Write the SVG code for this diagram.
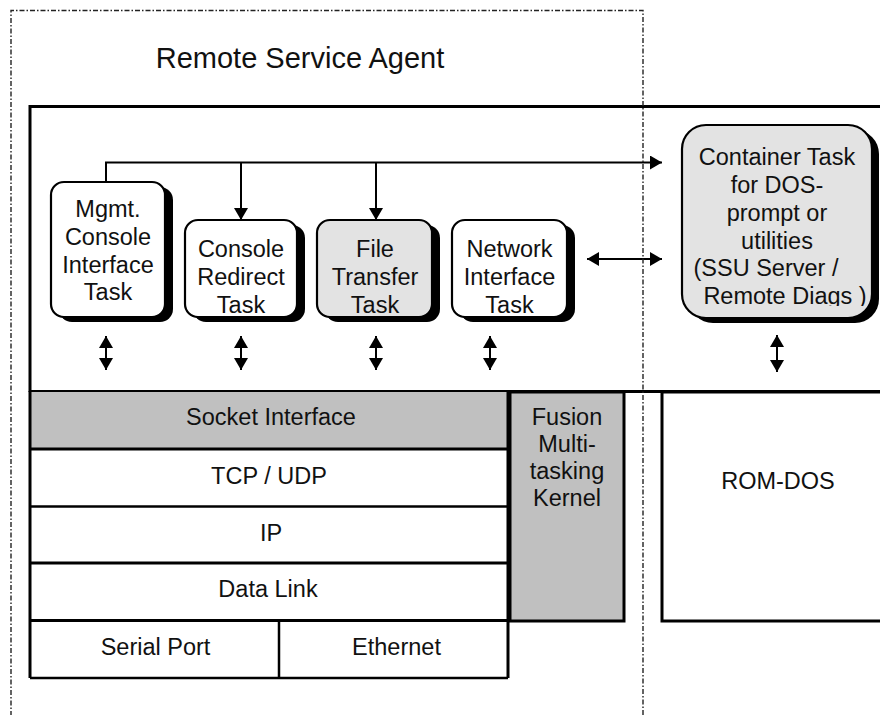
<svg xmlns="http://www.w3.org/2000/svg" width="880" height="715" viewBox="0 0 880 715">
<defs>
<style>
text{font-family:"Liberation Sans",Arial,sans-serif;font-size:23.5px;fill:#111;text-anchor:middle}
.title{font-size:29px}
.task{stroke:#000;stroke-width:2.2}
.shadow{fill:#000;stroke:none}
.thick{stroke:#000;stroke-width:3;fill:none}
.med{stroke:#000;stroke-width:2.5;fill:none}
.conn{stroke:#000;stroke-width:2;fill:none}
.dash{stroke:#222;stroke-width:1.4;fill:none;stroke-dasharray:5 2 1.5 2}
.gray{fill:#c0c0c0}
.light{fill:#e3e3e3}
.white{fill:#fff}
</style>
<marker id="ah" viewBox="0 0 12 14" refX="12" refY="7" markerWidth="12" markerHeight="14" markerUnits="userSpaceOnUse" orient="auto-start-reverse">
<path d="M0,0 L12,7 L0,14 Z" fill="#000"/>
</marker>
<clipPath id="cclip"><rect x="682" y="125" width="200" height="181"/></clipPath>
</defs>
<rect width="880" height="715" fill="#fff"/>
<text class="title" x="300" y="68">Remote Service Agent</text>
<g id="frame">
<path class="thick" d="M30,392 V106.5 H882"/>
<path class="thick" d="M30,391.5 H882"/>
</g>
<g id="mgmt">
<rect class="shadow" x="59" y="187" width="114" height="135" rx="13"/>
<rect class="task white" x="51" y="182" width="114" height="135" rx="13"/>
<text x="108" y="217">Mgmt.</text>
<text x="108" y="245">Console</text>
<text x="108" y="272.5">Interface</text>
<text x="108" y="300">Task</text>
</g>
<g id="redirect">
<rect class="shadow" x="193" y="225" width="112" height="97" rx="13"/>
<rect class="task white" x="185" y="220" width="112" height="97" rx="13"/>
<text x="241" y="257">Console</text>
<text x="241" y="285">Redirect</text>
<text x="241" y="313">Task</text>
</g>
<g id="filetransfer">
<rect class="shadow" x="325" y="225" width="115" height="97" rx="13"/>
<rect class="task light" x="317" y="220" width="115" height="97" rx="13"/>
<text x="375" y="257">File</text>
<text x="375" y="285">Transfer</text>
<text x="375" y="313">Task</text>
</g>
<g id="network">
<rect class="shadow" x="460" y="225" width="115" height="97" rx="13"/>
<rect class="task white" x="452" y="220" width="115" height="97" rx="13"/>
<text x="509.5" y="257">Network</text>
<text x="509.5" y="285">Interface</text>
<text x="509.5" y="313">Task</text>
</g>
<g id="container">
<rect class="shadow" x="689" y="130" width="190" height="193" rx="24"/>
<rect class="task light" x="682" y="125" width="190" height="193" rx="24"/>
<g clip-path="url(#cclip)">
<text x="777" y="165">Container Task</text>
<text x="777" y="193">for DOS-</text>
<text x="777" y="221">prompt or</text>
<text x="777" y="248.5">utilities</text>
<text x="766" y="276">(SSU Server /</text>
<text x="785" y="304">Remote Diags )</text>
</g>
</g>
<g id="socket">
<rect class="gray" x="30" y="392" width="478" height="57"/>
<text x="271" y="425">Socket Interface</text>
</g>
<g id="tcpudp"><text x="269" y="484">TCP / UDP</text></g>
<g id="ip"><text x="271" y="541">IP</text></g>
<g id="datalink"><text x="268" y="597">Data Link</text></g>
<g id="serial"><text x="155.5" y="655">Serial Port</text></g>
<g id="ethernet"><text x="396.5" y="655">Ethernet</text></g>
<g id="stacklines">
<path class="thick" d="M30,391 V678 M508,392 V678"/>
<path class="thick" d="M30,449 H508"/>
<path class="med" d="M30,506.5 H508"/>
<path class="thick" d="M30,563 H508"/>
<path class="thick" d="M30,620.5 H508"/>
<path class="med" d="M30,678 H508"/>
<path class="med" d="M279,620 V678"/>
</g>
<g id="fusion">
<rect x="510" y="392" width="114" height="229" style="fill:#c0c0c0;stroke:#000;stroke-width:3"/>
<text x="567" y="425">Fusion</text>
<text x="567" y="452">Multi-</text>
<text x="567" y="479">tasking</text>
<text x="567" y="506">Kernel</text>
</g>
<g id="romdos">
<rect x="662" y="392" width="225" height="229" style="fill:#fff;stroke:#000;stroke-width:3"/>
<text x="778" y="489">ROM-DOS</text>
</g>
<g id="connectors">
<path class="conn" d="M106,182 V162.5 H662" marker-end="url(#ah)"/>
<path class="conn" d="M241,162.5 V220" marker-end="url(#ah)"/>
<path class="conn" d="M376,162.5 V220" marker-end="url(#ah)"/>
<path class="conn" d="M587,259 H662" marker-start="url(#ah)" marker-end="url(#ah)"/>
<path class="conn" d="M106,336 V370" marker-start="url(#ah)" marker-end="url(#ah)"/>
<path class="conn" d="M241,336 V370" marker-start="url(#ah)" marker-end="url(#ah)"/>
<path class="conn" d="M376,336 V370" marker-start="url(#ah)" marker-end="url(#ah)"/>
<path class="conn" d="M490,336 V370" marker-start="url(#ah)" marker-end="url(#ah)"/>
<path class="conn" d="M777,335 V372" marker-start="url(#ah)" marker-end="url(#ah)"/>
</g>
<g id="agent-boundary">
<path class="dash" d="M11,716 V10.5 H643 V716"/>
</g>
</svg>
